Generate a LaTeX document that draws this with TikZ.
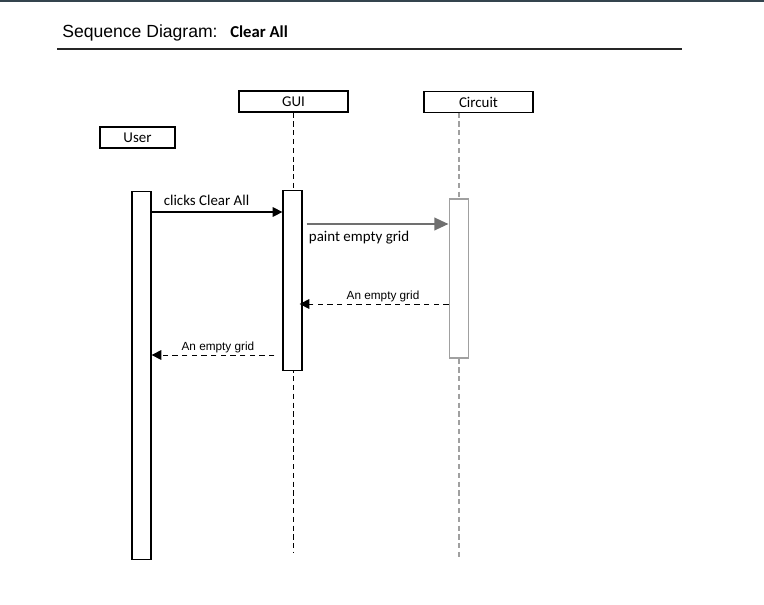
\documentclass[tikz,border=0pt]{standalone}
\usepackage{fontspec}
\setmainfont{Carlito}
\newfontfamily\arialfont{Liberation Sans}
\usetikzlibrary{arrows.meta,positioning}
\definecolor{framegray}{HTML}{34444E}
\definecolor{lightgray}{HTML}{A0A0A0}
\definecolor{midgray}{HTML}{707070}

\begin{document}
\begin{tikzpicture}[x=0.02cm, y=-0.02cm, >={Triangle[length=5.5pt,width=5.5pt]},
                    objbox/.style={draw, line width=0.7pt, minimum width=2.18cm, minimum height=0.42cm,
                                   inner sep=0pt, font=\fontsize{8.5}{10}\selectfont},
                    actbar/.style={draw, fill=white, line width=0.7pt, minimum width=0.38cm, inner sep=0pt},
                    lifeline/.style={dash pattern=on 3pt off 2pt, line width=0.6pt},
                    msg/.style={->, line width=0.6pt},
                    reply/.style={->, line width=0.5pt, dash pattern=on 3pt off 2.5pt},
                    msglabel/.style={font=\fontsize{8.5}{10}\selectfont},
                    replylabel/.style={font=\arialfont\fontsize{6.7}{8}\selectfont, inner sep=1pt}]

\useasboundingbox (0,0) rectangle (764,605);
\fill[framegray] (0,0) rectangle (764,2);

\node[anchor=west, inner sep=0pt, font=\arialfont\fontsize{10}{12}\selectfont] (title) at (62,33) {Sequence Diagram:};
\node[base right=6.8pt of title, inner sep=0pt, font=\bfseries\fontsize{9.5}{11}\selectfont] (case) {Clear All};
\coordinate (rulel) at (57,49);
\coordinate (ruler) at (682,49);
\draw[line width=0.6pt, black!85] (rulel) -- (ruler);

\node[objbox] (gui) at (293.5,101.5) {GUI};
\node[objbox] (circuit) at (478.5,102) {Circuit};
\node[objbox, minimum width=1.5cm] (user) at (137.5,137.5) {User};

\coordinate (guiend) at (293.5,553);
\coordinate (circuitend) at (459,560);
\draw[lifeline] (gui.south) -- (guiend);
\draw[lifeline, lightgray, line width=1.1pt] (gui.south -| circuitend) -- (circuitend);

\node[actbar, minimum height=7.36cm, anchor=north] (userbar) at (141.5,191) {};
\node[actbar, minimum height=3.6cm, anchor=north] (guibar) at (292.5,190) {};
\node[actbar, draw=lightgray, line width=1.1pt, minimum height=3.18cm, anchor=north] (circuitbar) at (459,198) {};

\coordinate (m1) at (0,212);
\coordinate (m2) at (0,224);
\coordinate (m3) at (0,304);
\coordinate (m4) at (0,355);

\draw[msg] (userbar.east |- m1) -- node[msglabel, above, pos=0.42] {clicks Clear All} (guibar.west |- m1);
\draw[msg, midgray, line width=1.4pt, >={Triangle[length=8pt,width=7pt]}]
  ([xshift=0.08cm]guibar.east |- m2) -- node[msglabel, black, below, pos=0.37] {paint empty grid} (circuitbar.west |- m2);
\draw[reply] (circuitbar.west |- m3) -- node[replylabel, above, pos=0.44] {An empty grid} ([xshift=-0.06cm]guibar.east |- m3);
\draw[reply] ([xshift=-0.16cm]guibar.west |- m4) -- node[replylabel, above, pos=0.46] {An empty grid} (userbar.east |- m4);
\end{tikzpicture}
\end{document}
